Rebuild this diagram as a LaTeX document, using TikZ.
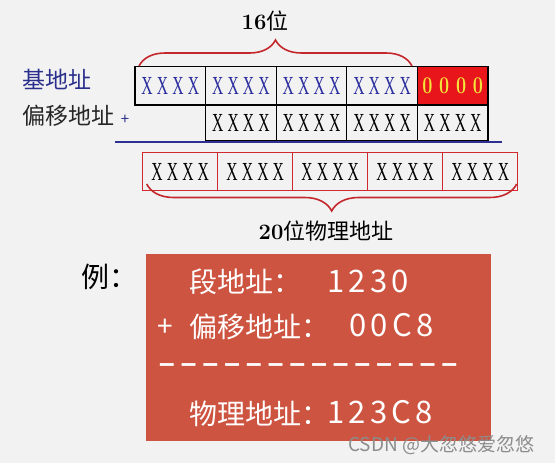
\documentclass[tikz,border=0pt]{standalone}
\usepackage{fontspec}
\usepackage{graphicx}
\usetikzlibrary{decorations.pathreplacing}
\newfontfamily\cjk{Noto Sans CJK SC}
\newfontfamily\cjkdig[LetterSpace=14]{Noto Sans CJK SC}
\newfontfamily\dashfont[LetterSpace=22]{Liberation Sans}
\newfontfamily\xfont{Liberation Serif}
\definecolor{bg}{HTML}{F2F2F2}
\definecolor{navy}{HTML}{2B2F8C}
\definecolor{xblue}{HTML}{2B2E9E}
\definecolor{cellred}{HTML}{E8161B}
\definecolor{gold}{HTML}{F3E53A}
\definecolor{bracered}{HTML}{C4282D}
\definecolor{linered}{HTML}{D02A30}
\definecolor{lineblue}{HTML}{2E3192}
\definecolor{boxred}{HTML}{CD5440}
\newcommand\xs{\scalebox{0.6}[1]{\xfont\fontsize{26}{26}\selectfont X\kern7pt X\kern7pt X\kern7pt X}}
\newcommand\zs{\scalebox{0.75}[1]{\fontsize{24}{24}\selectfont\bfseries 0 0 0 0}}
\begin{document}
\begin{tikzpicture}[x=1pt,y=-1pt,
  cell/.style={draw=black, line width=1.3pt, minimum width=70.6pt, inner sep=0pt, anchor=center},
  pcell/.style={draw=linered, line width=1.2pt, minimum width=75pt, minimum height=38.4pt, inner sep=0pt, anchor=center},
  bracedeco/.style={draw=bracered, line width=1.6pt, decorate, decoration={brace, amplitude=26pt}},
  boxtxt/.style={text=white, inner sep=0pt, anchor=base west, font=\cjk\fontsize{28}{28}\selectfont},
  boxdig/.style={text=white, inner sep=0pt, anchor=base west, font=\cjkdig\fontsize{31}{31}\selectfont},
  lbl/.style={inner sep=0pt, font=\cjk\fontsize{23}{23}\selectfont}]
\useasboundingbox[fill=bg] (0,0) rectangle (555,463);

% row 1: base address
\foreach \i in {1,...,4}
  \node[cell, minimum height=38.3pt, text=xblue] (b\i) at ({135+70.6*(\i-0.5)},85.85) {\xs};
\node[cell, minimum height=38.3pt, fill=cellred, text=gold] (b5) at ({135+70.6*4.5},85.85) {\zs};
% row 2: offset
\foreach \i in {2,...,5}
  \node[cell, minimum height=36pt, text=black] (o\i) at ({135+70.6*(\i-0.5)},123) {\xs};
% sum rule
\coordinate (rl) at (115,142);
\coordinate (rr) at (502,142);
\draw[lineblue, line width=2pt] (rl) -- (rr);
% row 3: physical address
\foreach \i in {1,...,5}
  \node[pcell, text=black] (p\i) at ({142.7+75*(\i-0.5)},171.5) {\xs};

% braces
\coordinate (t1) at (139,66);
\coordinate (t2) at (412,66);
\draw[bracedeco] (t1) -- (t2);
\coordinate (u1) at (146.7,184);
\coordinate (u2) at (516.7,184);
\draw[bracedeco, decoration={brace, mirror, amplitude=27pt}] (u1) -- (u2);

% labels
\node[inner sep=0pt] (w16) at (265,21) {{\fontsize{22}{22}\selectfont\bfseries 16}{\cjk\fontsize{22}{22}\selectfont 位}};
\node[inner sep=0pt] (w20) at (326,231) {{\fontsize{22}{22}\selectfont\bfseries 20}{\cjk\fontsize{22}{22}\selectfont 位物理地址}};
\node[lbl, text=navy, anchor=west] (base) at (22,79) {基地址};
\node[lbl, text=black!85, anchor=west] (off) at (22,116) {偏移地址};
\node[inner sep=0pt, text=navy, font=\cjk\fontsize{15}{15}\selectfont] (plusa) at (125,120) {+};

% example
\node[inner sep=0pt, anchor=base west, font=\cjk\fontsize{28}{28}\selectfont] (li) at (81,287) {例：};
\node[fill=boxred, minimum width=345pt, minimum height=187pt, anchor=north west, inner sep=0pt] (ex) at (146,254) {};
\node[boxtxt] (l1) at (189,292) {段地址：};
\node[boxdig] (d1) at (327,292) {1230};
\node[boxtxt] (plusb) at (157,336) {+};
\node[boxtxt] (l2) at (189,337) {偏移地址：};
\node[boxdig] (d2) at (349,336) {00C8};
\node[text=white, inner sep=0pt, anchor=west, font=\dashfont\bfseries\fontsize{28}{28}\selectfont] (dash) at (159,368) {––––––––––––––};
\node[boxtxt] (l3) at (189,424) {物理地址：};
\node[boxdig] (d3) at (327,423) {123C8};

% watermark
\node[inner sep=0pt, anchor=base west, text=black!45, font=\cjk\fontsize{19}{19}\selectfont] (wm) at (348,451) {CSDN @大忽悠爱忽悠};
\end{tikzpicture}
\end{document}
